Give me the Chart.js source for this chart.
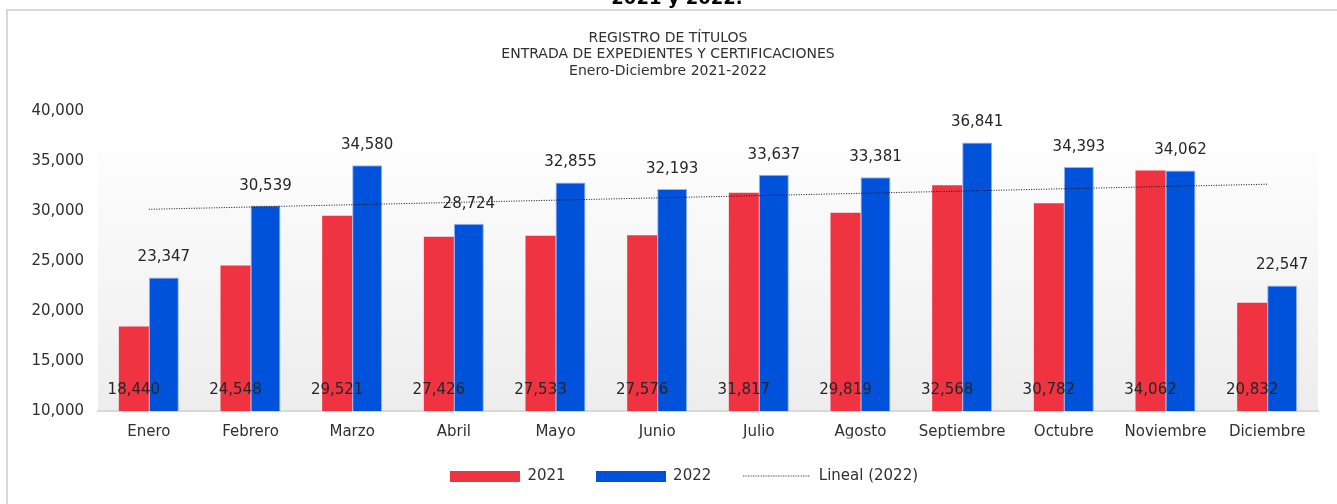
<!DOCTYPE html>
<html><head><meta charset="utf-8">
<script src="https://cdn.jsdelivr.net/npm/chart.js@4.4.1/dist/chart.umd.min.js"></script>
<style>html,body{margin:0;padding:0;background:#fff;overflow:hidden}#wrap{position:absolute;left:0;top:0;width:1337px;height:504px}</style>
</head><body><div id="wrap"><canvas id="c" width="1337" height="504"></canvas></div>
<script>
const categories = ['Enero','Febrero','Marzo','Abril','Mayo','Junio','Julio','Agosto','Septiembre','Octubre','Noviembre','Diciembre'];
const values2021 = [18440, 24548, 29521, 27426, 27533, 27576, 31817, 29819, 32568, 30782, 34062, 20832];
const values2022 = [23347, 30539, 34580, 28724, 32855, 32193, 33637, 33381, 36841, 34393, 34062, 22547];
const seriesNames = ['2021', '2022', 'Lineal (2022)'];
const titleLines = ['REGISTRO DE TÍTULOS', 'ENTRADA DE EXPEDIENTES Y CERTIFICACIONES', 'Enero-Diciembre 2021-2022'];
const headerText = '2021 y 2022.';
const yMin = 10000, yMax = 40000, yStep = 5000;

const RED = 'rgb(239,51,65)';
const BLUE = 'rgb(0,82,219)';
const FONT = '"DejaVu Sans", sans-serif';
const TXT = '#303030';

// Excel-style linear trendline of the 2022 series (least squares)
function linearTrend(v) {
  const n = v.length;
  let sx = 0, sy = 0, sxy = 0, sxx = 0;
  v.forEach((y, i) => { const x = i + 1; sx += x; sy += y; sxy += x * y; sxx += x * x; });
  const b = (n * sxy - sx * sy) / (n * sxx - sx * sx);
  const a = (sy - b * sx) / n;
  return v.map((_, i) => a + b * (i + 1));
}
const trend2022 = linearTrend(values2022);
const fmt = v => v.toLocaleString('en-US');

function swatch(kind) {
  const c = document.createElement('canvas');
  c.width = 70; c.height = 11;
  const g = c.getContext('2d');
  if (kind === 'line') {
    g.strokeStyle = '#000'; g.lineWidth = 1; g.setLineDash([1, 1.5]);
    g.beginPath(); g.moveTo(2, 5.5); g.lineTo(68, 5.5); g.stroke();
  } else {
    g.fillStyle = kind; g.fillRect(0, 0, 70, 11);
  }
  return c;
}
const swatches = [swatch(RED), swatch(BLUE), swatch('line')];

const decor = {
  id: 'decor',
  afterLayout(chart) {
    if (chart.legend) { chart.legend.left += 25; chart.legend.right += 25; }
  },
  beforeDraw(chart) {
    const ctx = chart.ctx, a = chart.chartArea;
    ctx.save();
    ctx.strokeStyle = '#d9d9d9'; ctx.lineWidth = 2;
    ctx.beginPath(); ctx.moveTo(7, 504); ctx.lineTo(7, 10); ctx.lineTo(1337, 10); ctx.stroke();
    const top = a.top + 41;
    const g = ctx.createLinearGradient(0, top, 0, a.bottom);
    g.addColorStop(0, '#fdfdfd'); g.addColorStop(1, '#ededed');
    ctx.fillStyle = g;
    ctx.fillRect(a.left, top, a.right - a.left, a.bottom - top);
    ctx.fillStyle = '#000';
    ctx.font = 'bold 18px ' + FONT;
    ctx.textAlign = 'center'; ctx.textBaseline = 'alphabetic';
    ctx.fillText(headerText, 677, 4);
    ctx.fillStyle = TXT;
    ctx.font = '14px ' + FONT;
    ctx.textBaseline = 'middle';
    const ys = [38.5, 54.5, 71.5];
    titleLines.forEach((t, i) => ctx.fillText(t, 668, ys[i]));
    ctx.restore();
  }
};

const valueLabels = {
  id: 'valueLabels',
  afterDatasetsDraw(chart) {
    const ctx = chart.ctx;
    ctx.save();
    ctx.font = '15px ' + FONT;
    ctx.fillStyle = '#262626';
    ctx.textAlign = 'center'; ctx.textBaseline = 'middle';
    chart.getDatasetMeta(1).data.forEach((bar, i) => ctx.fillText(fmt(values2022[i]), bar.x, bar.y - 20));
    chart.getDatasetMeta(0).data.forEach((bar, i) => ctx.fillText(fmt(values2021[i]), bar.x, chart.chartArea.bottom - 21));
    ctx.restore();
  }
};

new Chart(document.getElementById('c'), {
  type: 'bar',
  data: {
    labels: categories,
    datasets: [
      { label: seriesNames[0], data: values2021, backgroundColor: RED, order: 1, categoryPercentage: 0.59, barPercentage: 1 },
      { label: seriesNames[1], data: values2022, backgroundColor: BLUE, borderColor: 'rgba(150,180,240,1)', borderWidth: {top: 1, left: 1, right: 1, bottom: 0}, order: 1, categoryPercentage: 0.59, barPercentage: 1 },
      { type: 'line', label: seriesNames[2], data: trend2022, borderColor: '#111', borderWidth: 1, borderDash: [1, 1.5], pointRadius: 0, fill: false, order: 0 }
    ]
  },
  options: {
    responsive: false,
    animation: false,
    devicePixelRatio: 1,
    layout: { padding: { top: 111, left: 0, right: 19, bottom: 10.5 } },
    plugins: {
      tooltip: { enabled: false },
      title: { display: false },
      legend: {
        position: 'bottom',
        labels: {
          usePointStyle: true, pointStyleWidth: 70, boxHeight: 11, padding: 30,
          font: { family: FONT, size: 15 }, color: TXT,
          generateLabels: () => seriesNames.map((t, i) => ({ text: t, pointStyle: swatches[i], datasetIndex: i, hidden: false, lineWidth: 0, fillStyle: 'transparent', strokeStyle: 'transparent', fontColor: TXT }))
        }
      }
    },
    scales: {
      x: {
        grid: { display: false, drawTicks: false },
        border: { display: true, color: '#d9d9d9', width: 2 },
        ticks: { font: { family: FONT, size: 15 }, color: TXT, padding: 12, maxRotation: 0 },
        afterFit: s => { s.height = 27.5; }
      },
      y: {
        min: yMin, max: yMax,
        grid: { display: false, drawTicks: false },
        border: { display: false },
        ticks: { stepSize: yStep, font: { family: FONT, size: 15 }, color: TXT, padding: 14, callback: v => fmt(v) },
        afterFit: s => { s.width = 98; }
      }
    }
  },
  plugins: [decor, valueLabels]
});
</script>
</body></html>
